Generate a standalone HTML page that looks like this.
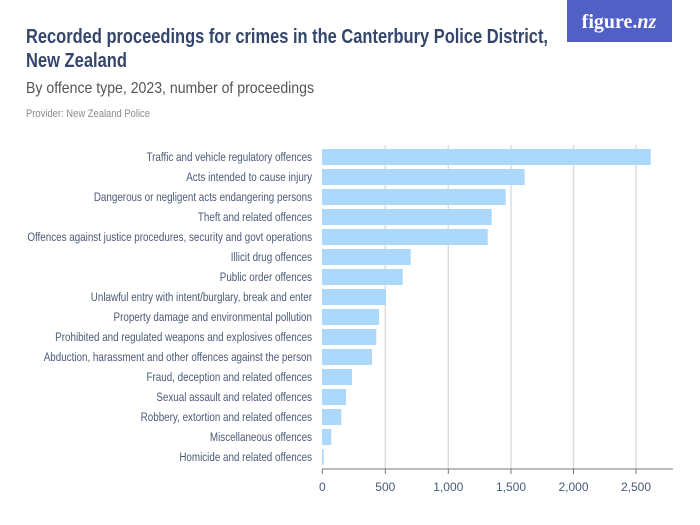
<!DOCTYPE html>
<html><head><meta charset="utf-8"><style>body{margin:0;background:#fff}svg{display:block}</style></head><body>
<svg width="700" height="525" xmlns="http://www.w3.org/2000/svg" font-family="Liberation Sans, sans-serif">
<rect width="700" height="525" fill="#fff"/>
<text x="26" y="43" font-size="20" font-weight="bold" fill="#34466b" textLength="522" lengthAdjust="spacingAndGlyphs">Recorded proceedings for crimes in the Canterbury Police District,</text>
<text x="26" y="67" font-size="20" font-weight="bold" fill="#34466b" textLength="101" lengthAdjust="spacingAndGlyphs">New Zealand</text>
<text x="26" y="93" font-size="16" fill="#555" textLength="288" lengthAdjust="spacingAndGlyphs">By offence type, 2023, number of proceedings</text>
<text x="26" y="117" font-size="11" fill="#8a8a8a" textLength="124" lengthAdjust="spacingAndGlyphs">Provider: New Zealand Police</text>
<rect x="567" y="0" width="105" height="42" fill="#5160c4"/>
<text x="619" y="28" font-size="20" fill="#fff" text-anchor="middle" font-family="Liberation Serif, serif" font-weight="bold">figure.<tspan font-style="italic">nz</tspan></text>
<g stroke="#dddddd" stroke-width="1.5">
<line x1="385.3" y1="145" x2="385.3" y2="469"/><line x1="448.3" y1="145" x2="448.3" y2="469"/><line x1="511" y1="145" x2="511" y2="469"/><line x1="573.5" y1="145" x2="573.5" y2="469"/><line x1="636" y1="145" x2="636" y2="469"/>
</g>
<g fill="#acd8fc">
<rect x="322" y="149" width="328.7" height="16"/>
<rect x="322" y="169" width="202.7" height="16"/>
<rect x="322" y="189" width="183.7" height="16"/>
<rect x="322" y="209" width="169.7" height="16"/>
<rect x="322" y="229" width="165.7" height="16"/>
<rect x="322" y="249" width="88.7" height="16"/>
<rect x="322" y="269" width="80.7" height="16"/>
<rect x="322" y="289" width="64" height="16"/>
<rect x="322" y="309" width="57" height="16"/>
<rect x="322" y="329" width="54.3" height="16"/>
<rect x="322" y="349" width="50" height="16"/>
<rect x="322" y="369" width="30" height="16"/>
<rect x="322" y="389" width="24" height="16"/>
<rect x="322" y="409" width="19.3" height="16"/>
<rect x="322" y="429" width="9.3" height="16"/>
<rect x="322" y="449" width="1.7" height="16"/>
</g>
<line x1="322" y1="469" x2="673" y2="469" stroke="#777" stroke-width="1"/>
<g stroke="#777"><line x1="322.3" y1="469" x2="322.3" y2="474"/><line x1="385.3" y1="469" x2="385.3" y2="474"/><line x1="448.3" y1="469" x2="448.3" y2="474"/><line x1="511" y1="469" x2="511" y2="474"/><line x1="573.5" y1="469" x2="573.5" y2="474"/><line x1="636" y1="469" x2="636" y2="474"/></g>
<g font-size="12" fill="#4a5a78" text-anchor="middle">
<text x="322.3" y="491">0</text><text x="385.3" y="491">500</text><text x="448.3" y="491">1,000</text><text x="511" y="491">1,500</text><text x="573.5" y="491">2,000</text><text x="636" y="491">2,500</text>
</g>
<g transform="translate(312,0) scale(0.82,1)" font-size="12" fill="#4a5a78" text-anchor="end">
<text x="0" y="161">Traffic and vehicle regulatory offences</text>
<text x="0" y="181">Acts intended to cause injury</text>
<text x="0" y="201">Dangerous or negligent acts endangering persons</text>
<text x="0" y="221">Theft and related offences</text>
<text x="0" y="241">Offences against justice procedures, security and govt operations</text>
<text x="0" y="261">Illicit drug offences</text>
<text x="0" y="281">Public order offences</text>
<text x="0" y="301">Unlawful entry with intent/burglary, break and enter</text>
<text x="0" y="321">Property damage and environmental pollution</text>
<text x="0" y="341">Prohibited and regulated weapons and explosives offences</text>
<text x="0" y="361">Abduction, harassment and other offences against the person</text>
<text x="0" y="381">Fraud, deception and related offences</text>
<text x="0" y="401">Sexual assault and related offences</text>
<text x="0" y="421">Robbery, extortion and related offences</text>
<text x="0" y="441">Miscellaneous offences</text>
<text x="0" y="461">Homicide and related offences</text>
</g>
</svg>
</body></html>
